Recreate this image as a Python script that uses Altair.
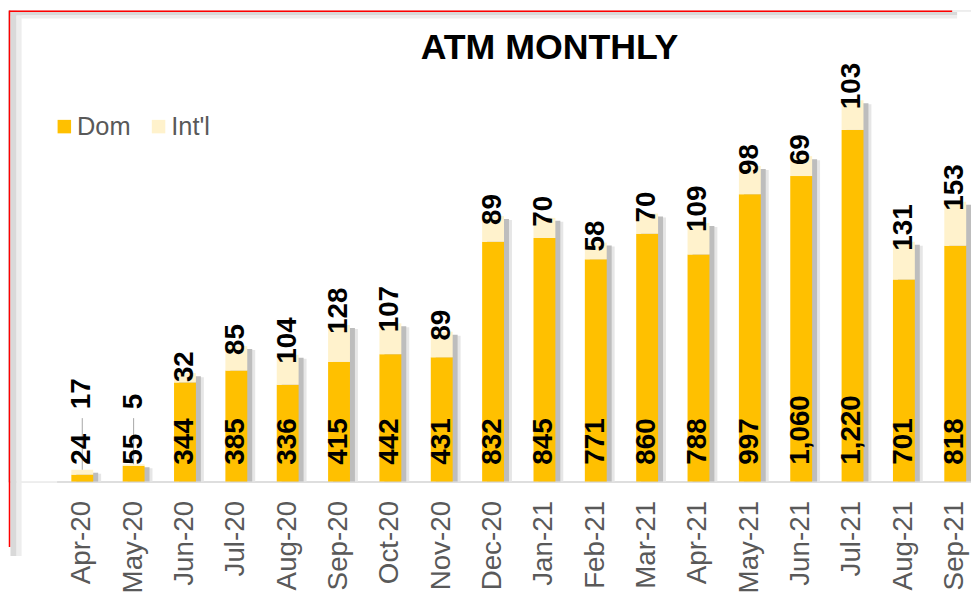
import altair as alt
import pandas as pd

months = ["Apr-20", "May-20", "Jun-20", "Jul-20", "Aug-20", "Sep-20", "Oct-20", "Nov-20", "Dec-20",
          "Jan-21", "Feb-21", "Mar-21", "Apr-21", "May-21", "Jun-21", "Jul-21", "Aug-21", "Sep-21"]
dom = [24, 55, 344, 385, 336, 415, 442, 431, 832, 845, 771, 860, 788, 997, 1060, 1220, 701, 818]
intl = [17, 5, 32, 85, 104, 128, 107, 89, 89, 70, 58, 70, 109, 98, 69, 103, 131, 153]
series_names = ["Dom", "Int'l"]
series_colors = ["#FFC000", "#FFF2CC"]

MIN_LABEL = 282  # lowest position of the Int'l labels (small bars get leader lines)

wide = pd.DataFrame({"month": months, "dom": dom, "intl": intl})
wide["total"] = wide["dom"] + wide["intl"]
wide["zero"] = 0
wide["lab_pos"] = wide["total"].clip(lower=MIN_LABEL)

n = len(months)
long = pd.DataFrame({
    "month": months * 2,
    "series": [series_names[0]] * n + [series_names[1]] * n,
    "y0": [0] * n + dom,
    "y1": dom + [d + i for d, i in zip(dom, intl)],
})

FONT = "Liberation Sans"
H = 475
W = 971

xscale = alt.Scale(domain=months, range=[49, 981], paddingInner=0.574, paddingOuter=0.287, round=False)
xaxis = alt.Axis(title=None, labelAngle=270, labelFontSize=28, labelColor="#595959", labelFont=FONT,
                 ticks=False, tickSize=0, labelPadding=19, domainColor="#D9D9D9", domainWidth=1.5,
                 labelOverlap=False, grid=False)
yscale = alt.Scale(domain=[0, 1634.5], nice=False, zero=True)


def X():
    return alt.X("month:N", sort=months, scale=xscale, axis=xaxis)


base = alt.Chart(wide)

shadow_outer = base.mark_bar(color="#E6E6E6", xOffset=8, yOffset=4).encode(
    x=X(), y=alt.Y("total:Q", scale=yscale, axis=None), y2="zero:Q")
shadow_inner = base.mark_bar(color="#BDBDBD", xOffset=5, yOffset=3).encode(
    x=X(), y=alt.Y("total:Q", scale=yscale, axis=None), y2="zero:Q")

bars = alt.Chart(long).mark_bar().encode(
    x=X(),
    y=alt.Y("y1:Q", scale=yscale, axis=None),
    y2="y0:Q",
    color=alt.Color("series:N", scale=alt.Scale(domain=series_names, range=series_colors),
                    legend=alt.Legend(title=None, orient="none", legendX=44, legendY=104,
                                      direction="horizontal", symbolType="square", symbolSize=185,
                                      symbolStrokeWidth=0, labelFontSize=25.6, labelColor="#595959",
                                      labelFont=FONT, labelOffset=0, columnPadding=15, padding=0)),
)

leaders = base.transform_filter("datum.lab_pos > datum.total").mark_rule(
    color="#A6A6A6", strokeWidth=1, y2Offset=18).encode(
    x=X(), y=alt.Y("total:Q", scale=yscale, axis=None), y2="lab_pos:Q")

dom_labels = base.mark_text(angle=270, align="left", baseline="middle", font=FONT, fontSize=28,
                            fontWeight="bold", color="#000000", yOffset=-17).encode(
    x=X(), y=alt.Y("zero:Q", scale=yscale, axis=None), text=alt.Text("dom:Q", format=","))

int_labels = base.mark_text(angle=270, align="left", baseline="middle", font=FONT, fontSize=28,
                            fontWeight="bold", color="#000000", yOffset=9).encode(
    x=X(), y=alt.Y("lab_pos:Q", scale=yscale, axis=None), text=alt.Text("intl:Q", format=","))

one = alt.Data(values=[{"k": 1}])
deco = alt.Chart(one)
frame = [
    deco.mark_rect(color="#D9D9D9").encode(x=alt.value(2.5), x2=alt.value(8.7), y=alt.value(0), y2=alt.value(550)),
    deco.mark_rect(color="#EDEDED").encode(x=alt.value(8.7), x2=alt.value(13.7), y=alt.value(0), y2=alt.value(550)),
    deco.mark_rect(color="#D9D9D9").encode(x=alt.value(2.5), x2=alt.value(957), y=alt.value(1.5), y2=alt.value(5)),
    deco.mark_rect(color="#EDEDED").encode(x=alt.value(8.7), x2=alt.value(957), y=alt.value(5), y2=alt.value(8)),
    deco.mark_rule(color="#FF0000", strokeWidth=1.5).encode(x=alt.value(1.5), y=alt.value(0), y2=alt.value(541)),
    deco.mark_rule(color="#FF0000", strokeWidth=1.5).encode(x=alt.value(1.5), x2=alt.value(952), y=alt.value(0.75)),
]

title = deco.mark_text(font=FONT, fontSize=36, fontWeight="bold", color="#000000", align="center",
                       baseline="alphabetic").encode(
    x=alt.value(546), y=alt.value(49), text=alt.value("ATM MONTHLY"))

chart = alt.layer(*frame, shadow_outer, shadow_inner, bars, leaders, dom_labels, int_labels, title).properties(
    width=W, height=H,
    autosize=alt.AutoSizeParams(type="none"),
    padding={"left": 0, "top": 0, "right": 0, "bottom": 125},
).configure_view(stroke=None).configure(background="#FFFFFF")

chart.save("out.html", embed_options={"renderer": "svg", "actions": False})
